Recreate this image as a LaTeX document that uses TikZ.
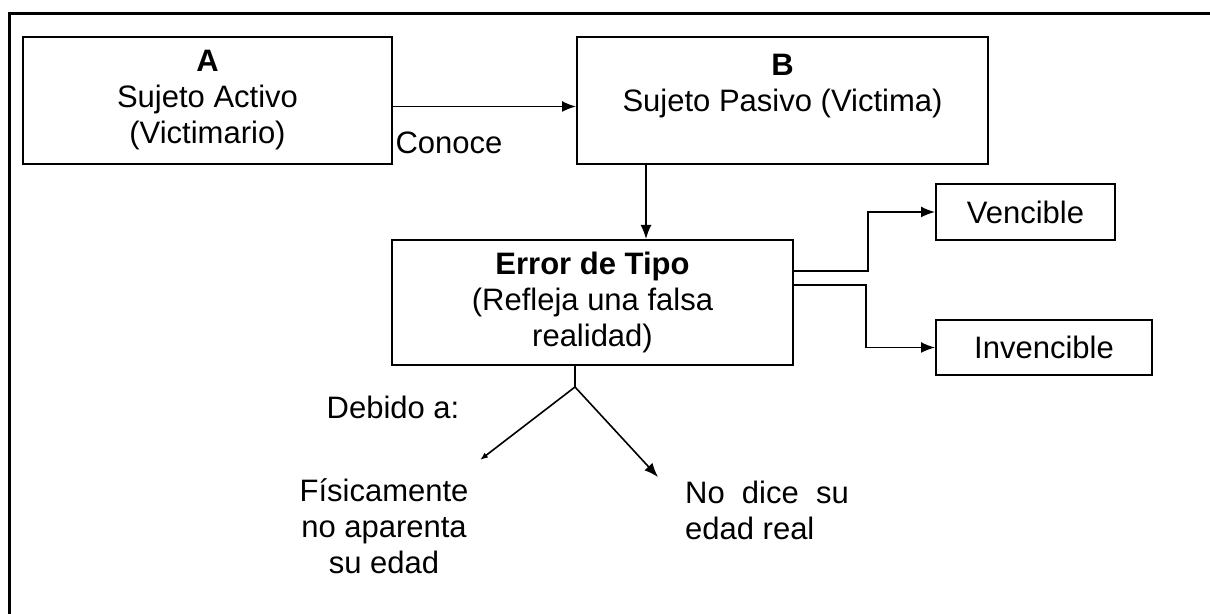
\documentclass[tikz,border=0pt]{standalone}
\usepackage{fontspec}
\setmainfont{Liberation Sans}
\usetikzlibrary{arrows.meta}

\tikzset{
  caja/.style={draw, line width=1pt, align=center, inner sep=0pt},
  texto/.style={align=center, inner sep=0pt},
}

\begin{document}
\begin{tikzpicture}[x=0.5pt, y=-0.5pt, font=\fontsize{15.5}{18}\selectfont,
                    >={Latex[length=7pt,width=5.5pt]}]
            \useasboundingbox (0,0) rectangle (1210,614);
            \draw[line width=1.5pt] (9,614) -- (9,14) -- (1210,14);
            % cajas
            \node[caja, minimum width=184.5pt, minimum height=63.5pt] (A) at (207.5,100.5)
                {\textbf{A}\\Sujeto Activo\\(Victimario)};
            \node[caja, minimum width=205.5pt, minimum height=63.5pt] (B) at (782.5,100.5)
                {\textbf{B}\\Sujeto Pasivo (Victima)\\\mbox{}};
            \node[caja, minimum width=200.5pt, minimum height=62.5pt] (err) at (592.5,302.5)
                {\textbf{Error de Tipo}\\(Refleja una falsa\\realidad)};
            \node[caja, minimum width=89.5pt, minimum height=28pt] (venc) at (1025.5,212) {Vencible};
            \node[caja, minimum width=108pt, minimum height=27.5pt] (inv) at (1044,347.5) {Invencible};
            % textos sueltos
            \node[texto] (conoce) at (449,143) {Conoce};
            \node[texto] (debido) at (393,407) {Debido a:};
            \node[texto] (fis) at (384,526) {Físicamente\\no aparenta\\su edad};
            \node[texto, align=left] (nodice) at (767,510) {No\ \ dice\ \ su\\edad real};
            \coordinate (split) at (575,387);
            \coordinate (fistip) at (480,460);
            \coordinate (nodicetip) at (658,477);
            % flechas
            \draw[->, line width=0.8pt] ([yshift=-3pt]A.east) -- ([yshift=-3pt]B.west);
            \draw[->, line width=0.8pt] ([xshift=35pt]B.south west) -- ([xshift=35pt]B.south west |- err.north);
            \draw[->, line width=0.8pt] ([yshift=15.75pt]err.east) -- ++(37pt,0) |- (venc.west);
            \draw[->, line width=0.8pt] ([yshift=8.75pt]err.east) -- ++(36pt,0) |- (inv.west);
            \draw[line width=0.8pt] ([xshift=-8.75pt]err.south) -- (split);
            \draw[-{Latex[length=4pt,width=3pt]}, line width=0.8pt] (split) -- (fistip);
            \draw[->, line width=0.8pt] (split) -- (nodicetip);
\end{tikzpicture}
\end{document}
